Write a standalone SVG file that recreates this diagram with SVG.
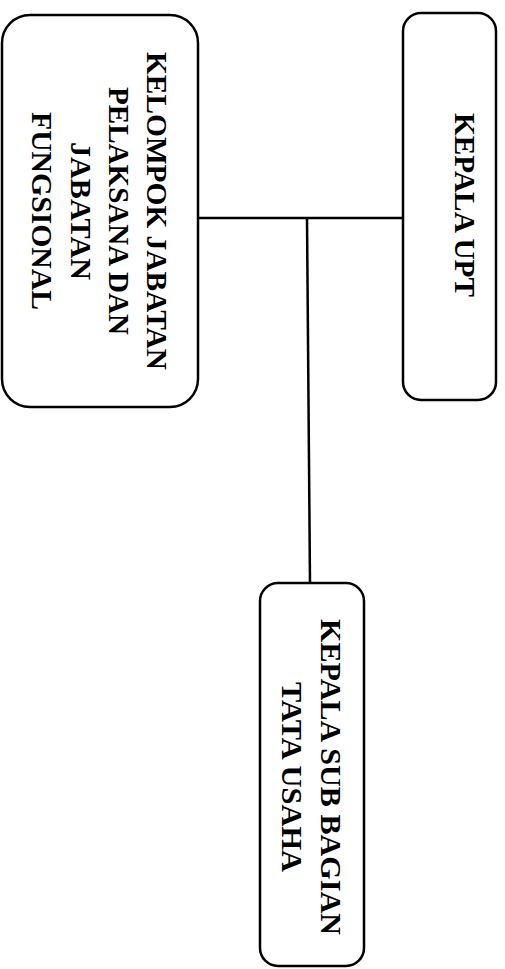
<svg xmlns="http://www.w3.org/2000/svg" width="505" height="969" viewBox="0 0 505 969">
<style>
.box{fill:#fff;stroke:#000;stroke-width:2.5}
.ln{stroke:#000;stroke-width:2.5;fill:none}
.t{font-family:"Liberation Serif","Times New Roman",serif;font-size:29px;font-weight:bold;fill:#000}
</style>
<rect width="505" height="969" fill="#fff"/>
<g id="connectors">
<line class="ln" x1="198" y1="218" x2="403" y2="218"/>
<line class="ln" x1="307" y1="218" x2="310" y2="583"/>
</g>
<g id="kelompok">
<rect class="box" x="2" y="15" width="196" height="392" rx="28" ry="28"/>
<text class="t" transform="translate(147,52) rotate(90)" textLength="318" lengthAdjust="spacingAndGlyphs">KELOMPOK JABATAN</text>
<text class="t" transform="translate(109,87) rotate(90)" textLength="248" lengthAdjust="spacingAndGlyphs">PELAKSANA DAN</text>
<text class="t" transform="translate(71,142) rotate(90)" textLength="138" lengthAdjust="spacingAndGlyphs">JABATAN</text>
<text class="t" transform="translate(32,112) rotate(90)" textLength="198" lengthAdjust="spacingAndGlyphs">FUNGSIONAL</text>
</g>
<g id="kepala-upt">
<rect class="box" x="403" y="13" width="93" height="387" rx="18" ry="18"/>
<text class="t" transform="translate(455,113) rotate(90)" textLength="184" lengthAdjust="spacingAndGlyphs">KEPALA UPT</text>
</g>
<g id="kasubag">
<rect class="box" x="260" y="583" width="104" height="383" rx="18" ry="18"/>
<text class="t" transform="translate(321,619) rotate(90)" textLength="316" lengthAdjust="spacingAndGlyphs">KEPALA SUB BAGIAN</text>
<text class="t" transform="translate(282,682) rotate(90)" textLength="190" lengthAdjust="spacingAndGlyphs">TATA USAHA</text>
</g>
</svg>
